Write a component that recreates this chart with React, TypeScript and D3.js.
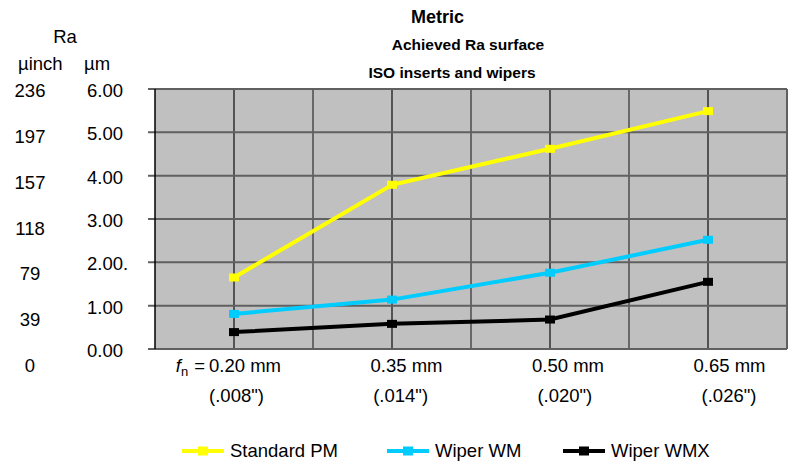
import React from "react";
import * as d3 from "d3";

// Feed rates along the x axis
const categories = ["0.20", "0.35", "0.50", "0.65"];
const mmLabels = ["0.20 mm", "0.35 mm", "0.50 mm", "0.65 mm"];
const inchLabels = ['(.008")', '(.014")', '(.020")', '(.026")'];

// Achieved Ra (µm) per feed rate
const standardPM = [1.65, 3.79, 4.62, 5.49];
const wiperWM = [0.81, 1.14, 1.76, 2.52];
const wiperWMX = [0.39, 0.58, 0.68, 1.55];

// Axis tick labels
const umTicks = [6, 5, 4, 3, 2, 1, 0];
const umTickLabels = ["6.00", "5.00", "4.00", "3.00", "2.00.", "1.00", "0.00"];
const uinchTickLabels = ["236", "197", "157", "118", "79", "39", "0"];

const seriesNames = ["Standard PM", "Wiper WM", "Wiper WMX"];
const seriesValues = [standardPM, wiperWM, wiperWMX];
const seriesColors = ["#ffff00", "#00ccff", "#000000"];

const W = 788;
const H = 461;
const FONT = "'Liberation Sans', Arial, sans-serif";
const FS = 18.5;

export default function App() {
  const plot = { left: 155, right: 787, top: 89, bottom: 349 };

  const x = d3.scaleBand<string>().domain(categories).range([plot.left, plot.right]).padding(0);
  const cx = (c: string) => (x(c) as number) + x.bandwidth() / 2;
  const y = d3.scaleLinear().domain([0, 6]).range([plot.bottom, plot.top]);

  // Ra in µinch column sits on its own evenly spaced rows
  const yInch = d3.scalePoint<string>().domain(uinchTickLabels).range([97, 372]);

  // Category label positions
  const mmX = d3.scalePoint<string>().domain(categories).range([245, 729.5]);
  const inX = d3.scalePoint<string>().domain(categories).range([236.5, 729]);

  const half = x.bandwidth() / 2;
  const vLines = d3.range(1, categories.length * 2).map((k) => plot.left + k * half);

  const line = d3
    .line<number>()
    .x((_, i) => cx(categories[i]))
    .y((v) => y(v));

  const legendX = [182, 387, 563];

  return (
    <svg width={W} height={H} style={{ position: "absolute", left: 0, top: 0 }} fontFamily={FONT}>
      <rect x={0} y={0} width={W} height={H} fill="#ffffff" />

      {/* Titles */}
      <text x={437.5} y={23} textAnchor="middle" fontSize={18} fontWeight="bold">Metric</text>
      <text x={468} y={50} textAnchor="middle" fontSize={15.5} fontWeight="bold">Achieved Ra surface</text>
      <text x={452} y={78} textAnchor="middle" fontSize={15.5} fontWeight="bold">ISO inserts and wipers</text>

      {/* Axis unit headers */}
      <text x={65} y={43} textAnchor="middle" fontSize={FS}>Ra</text>
      <text x={18} y={70} fontSize={FS}>µinch</text>
      <text x={84} y={70} fontSize={FS}>µm</text>

      {/* Plot area */}
      <rect x={plot.left} y={plot.top} width={plot.right - plot.left} height={plot.bottom - plot.top} fill="#c0c0c0" />

      {vLines.map((vx, i) => (
        <line key={"v" + i} x1={vx} x2={vx} y1={plot.top} y2={plot.bottom} stroke={i % 2 === 0 ? "#1a1a1a" : "#3a3a3a"} strokeWidth={1.3} />
      ))}
      {umTicks.map((t) => (
        <line key={"h" + t} x1={148} x2={plot.right} y1={y(t)} y2={y(t)} stroke="#606060" strokeWidth={2} />
      ))}
      <line x1={plot.right} x2={plot.right} y1={plot.top} y2={plot.bottom} stroke="#606060" strokeWidth={2} />
      <line x1={plot.left} x2={plot.left} y1={plot.top} y2={plot.bottom} stroke="#000" strokeWidth={1.5} />

      {/* µm tick labels */}
      {umTicks.map((t, i) => (
        <text key={"um" + t} x={87} y={y(t) + 8} fontSize={FS}>{umTickLabels[i]}</text>
      ))}
      {/* µinch tick labels */}
      {uinchTickLabels.map((l) => (
        <text key={"in" + l} x={30} y={yInch(l)} textAnchor="middle" fontSize={FS}>{l}</text>
      ))}

      {/* Category labels */}
      {categories.map((c, i) => (
        <g key={"c" + c}>
          <text x={mmX(c)} y={372} textAnchor="middle" fontSize={FS}>{mmLabels[i]}</text>
          <text x={inX(c)} y={402} textAnchor="middle" fontSize={FS}>{inchLabels[i]}</text>
        </g>
      ))}
      <text x={(mmX(categories[0]) as number) - 40} y={372} textAnchor="end" fontSize={FS}>
        <tspan fontStyle="italic">f</tspan>
        <tspan fontSize={13} dy={4}>n</tspan>
        <tspan dy={-4} dx={6}>=</tspan>
      </text>

      {/* Series */}
      {seriesValues.map((vals, s) => (
        <g key={"s" + s}>
          <path d={line(vals) || ""} fill="none" stroke={seriesColors[s]} strokeWidth={4} strokeLinejoin="miter" />
          {vals.map((v, i) => (
            <rect key={i} x={cx(categories[i]) - 5} y={y(v) - 4} width={10} height={8} fill={seriesColors[s]} />
          ))}
        </g>
      ))}

      {/* Legend */}
      {seriesNames.map((n, s) => (
        <g key={"l" + s}>
          <line x1={legendX[s]} x2={legendX[s] + 42} y1={451} y2={451} stroke={seriesColors[s]} strokeWidth={4} />
          <rect x={legendX[s] + 16} y={446.5} width={10} height={9} fill={seriesColors[s]} />
          <text x={legendX[s] + 48} y={457} fontSize={FS}>{n}</text>
        </g>
      ))}
    </svg>
  );
}
